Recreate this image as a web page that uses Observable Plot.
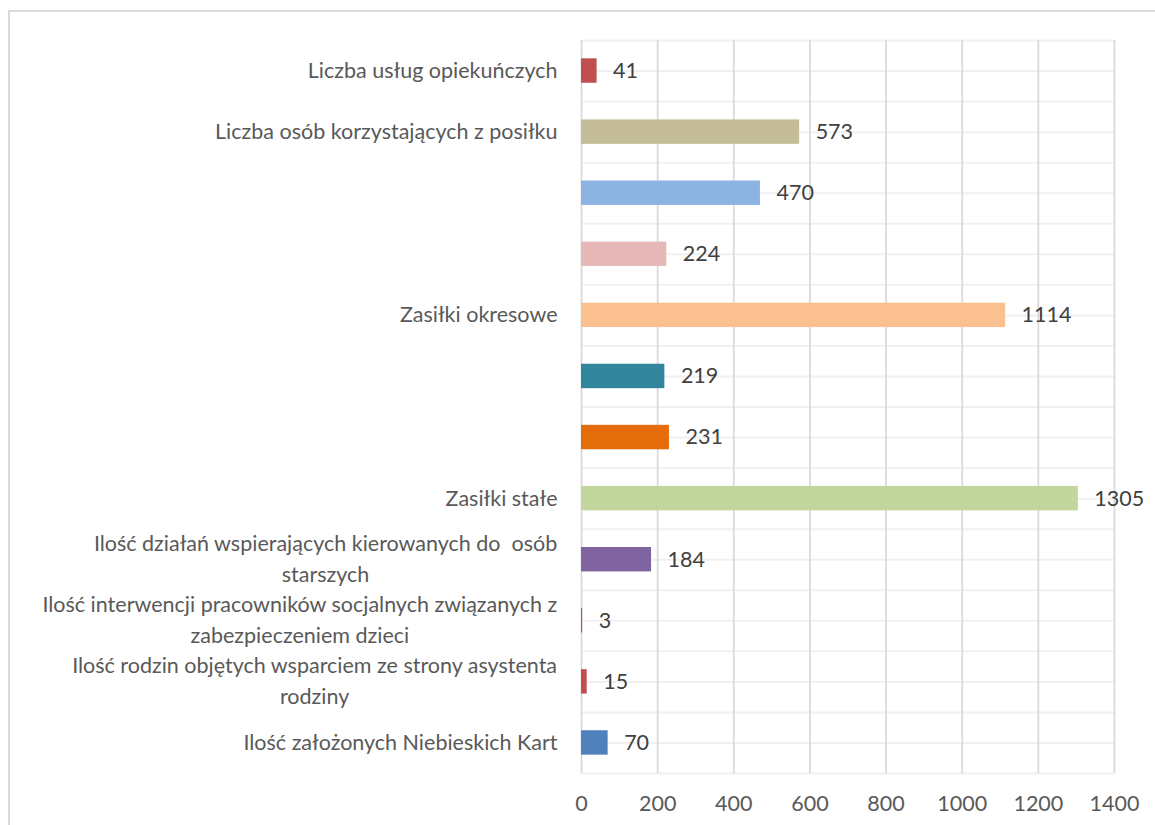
<!DOCTYPE html>
<html>
<head>
<meta charset="utf-8">
<script src="https://cdn.jsdelivr.net/npm/d3@7"></script>
<script src="https://cdn.jsdelivr.net/npm/@observablehq/plot@0.6"></script>
<style>
  html, body { margin: 0; padding: 0; background: #fff; overflow: hidden; }
  #wrap { position: relative; width: 1155px; height: 825px; }
  #frame { position: absolute; left: 8px; top: 10px; width: 1170px; height: 900px;
           border: 2px solid #d9d9d9; box-sizing: border-box; pointer-events: none; }
  #chart { position: absolute; left: 0; top: 0; }
</style>
</head>
<body>
<div id="wrap"><div id="chart"></div><div id="frame"></div></div>
<script>
const categories = [
  "Liczba usług opiekuńczych",
  "Liczba osób korzystających z posiłku",
  "",
  "",
  "Zasiłki okresowe",
  "",
  "",
  "Zasiłki stałe",
  "Ilość działań wspierających kierowanych do  osób\nstarszych",
  "Ilość interwencji pracowników socjalnych związanych z\nzabezpieczeniem dzieci",
  "Ilość rodzin objętych wsparciem ze strony asystenta\nrodziny",
  "Ilość założonych Niebieskich Kart"
];
const values = [41, 573, 470, 224, 1114, 219, 231, 1305, 184, 3, 15, 70];
const colors = ["#c0504d", "#c4bd97", "#8db3e2", "#e6b9b8", "#fac090", "#31859c",
                "#e46c0a", "#c3d69b", "#8064a2", "#c0504d", "#c0504d", "#4f81bd"];
const xTicks = [0, 200, 400, 600, 800, 1000, 1200, 1400];

const FONT = "Lato";
const FS = 21.5;
const rows = categories.map((label, i) => ({i, label, value: values[i], color: colors[i]}));
const n = rows.length;
const gridLines = d3.range(0, 2 * n + 1).map(k => k / 2 - 0.5);

const ctx = document.createElement("canvas").getContext("2d");
ctx.font = `${FS}px ${FONT}`;
const labelGap = 24;

const labelMarks = rows.filter(r => r.label).map(r => {
  const lines = r.label.split("\n");
  if (lines.length === 1) {
    return Plot.text([r], {x: () => 0, y: "i", text: "label", textAnchor: "end", dx: -labelGap,
      fill: "#595959", fontSize: FS});
  }
  const w = d3.max(lines, l => ctx.measureText(l).width);
  return Plot.text([r], {x: () => 0, y: "i", text: "label", textAnchor: "middle", dx: -labelGap - w / 2,
    dy: -3, lineHeight: 1.45, fill: "#595959", fontSize: FS});
});

const plot = Plot.plot({
  width: 1155,
  height: 825,
  marginLeft: 581,
  marginRight: 41,
  marginTop: 40,
  marginBottom: 52,
  style: {fontFamily: FONT, fontSize: FS + "px", background: "transparent"},
  x: {domain: [0, 1400], axis: null},
  y: {domain: [-0.5, n - 0.5], reverse: true, axis: null},
  marks: [
    Plot.ruleY(gridLines, {stroke: "#f0f0f0", strokeWidth: 2}),
    Plot.ruleX(xTicks, {stroke: "#d9d9d9", strokeWidth: 1.75}),
    Plot.rectX(rows, {x1: 0, x2: "value", y1: d => d.i - 0.2, y2: d => d.i + 0.2, fill: d => d.color}),
    Plot.text(rows, {x: "value", y: "i", text: d => String(d.value), textAnchor: "start", dx: 16,
      fill: "#404040", fontSize: FS}),
    Plot.axisX({ticks: xTicks, tickSize: 0, tickPadding: 22, fill: "#595959", fontSize: FS,
      tickFormat: d => String(d), label: null}),
    ...labelMarks
  ]
});
document.getElementById("chart").appendChild(plot);
</script>
</body>
</html>
